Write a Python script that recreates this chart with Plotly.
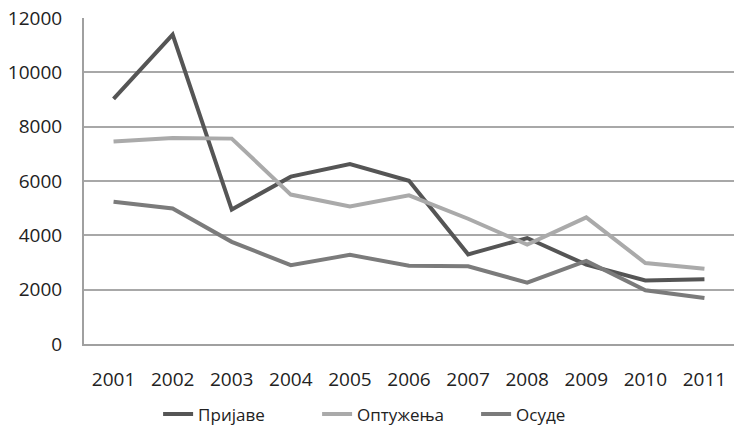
import plotly.graph_objects as go

years = ["2001", "2002", "2003", "2004", "2005", "2006", "2007", "2008", "2009", "2010", "2011"]
prijave = [9020, 11390, 4950, 6160, 6620, 6010, 3300, 3900, 2920, 2340, 2380]
optuzenja = [7450, 7580, 7560, 5500, 5060, 5470, 4610, 3660, 4660, 2980, 2770]
osude = [5240, 4990, 3760, 2900, 3280, 2880, 2860, 2260, 3060, 1980, 1690]
y_ticks = [0, 2000, 4000, 6000, 8000, 10000, 12000]
y_tick_labels = ["0", "2000", "4000", "6000", "8000", "10000", "12000"]

series = [
    ("Пријаве", prijave, "#555555"),
    ("Оптужења", optuzenja, "#aaaaaa"),
    ("Осуде", osude, "#7b7b7b"),
]

fig = go.Figure()
for name, vals, color in series:
    fig.add_trace(go.Scatter(x=years, y=vals, name=name, mode="lines",
                             line=dict(color=color, width=4)))

tick_font = dict(family="Open Sans", size=19, color="#222222")
fig.update_layout(
    width=734, height=433,
    margin=dict(l=84, r=0, t=18, b=82),
    paper_bgcolor="white", plot_bgcolor="white",
    font=tick_font,
    showlegend=True,
    legend=dict(orientation="h", x=0.114, xanchor="left", y=-0.216, yanchor="middle",
                font=dict(family="Open Sans", size=17, color="#222222"),
                entrywidth=114, entrywidthmode="pixels", tracegroupgap=0),
)
fig.update_xaxes(type="category", range=[-0.5, 10.5], showgrid=False, showline=True,
                 linecolor="#a0a0a0", linewidth=2, ticks="", ticklabelstandoff=17,
                 tickfont=tick_font, automargin=False)
fig.update_yaxes(range=[0, 12000], tickvals=y_ticks, ticktext=y_tick_labels, showgrid=True,
                 gridcolor="#a8a8a8", gridwidth=1.5, showline=True, linecolor="#a0a0a0",
                 linewidth=2, zeroline=False, ticks="", ticklabelstandoff=16,
                 tickfont=tick_font, automargin=False, ticklabeloverflow="allow")

fig.write_html("out.html", config={"displayModeBar": False},
               post_script="document.body.style.margin='0';")
